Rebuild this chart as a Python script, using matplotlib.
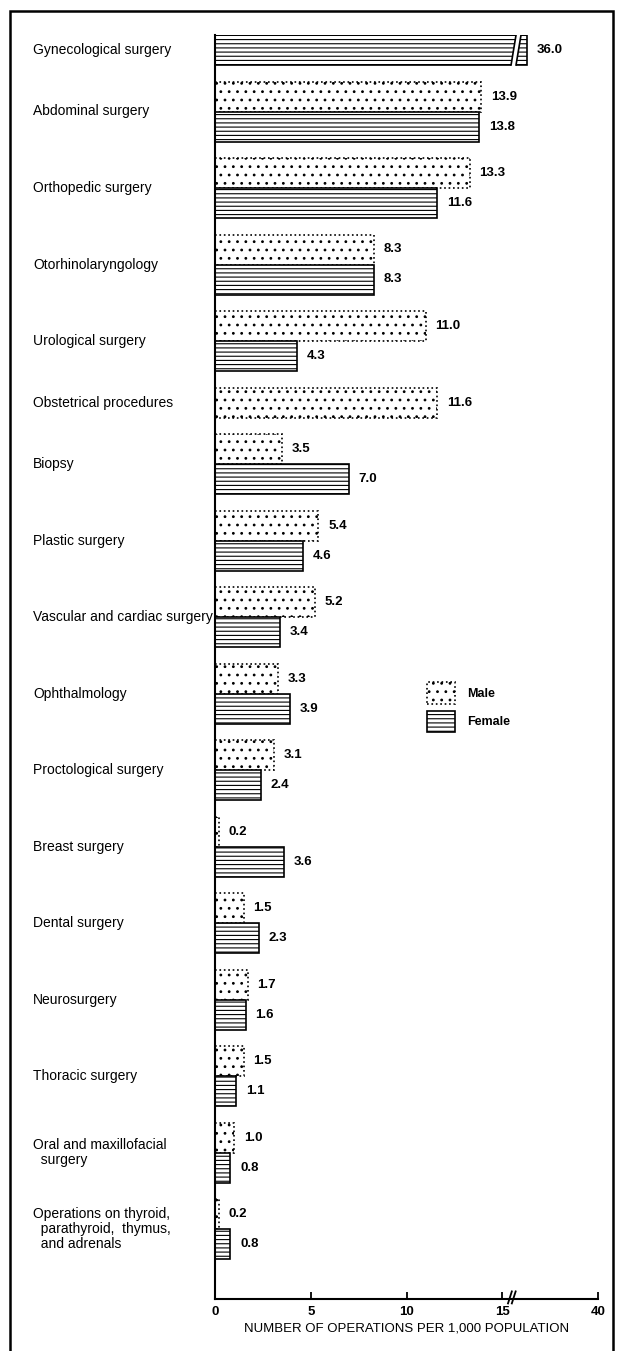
# surgical operations per 1,000 population by sex, horizontal bar chart with broken x axis

import matplotlib.pyplot as plt
import matplotlib.transforms as mtransforms
from matplotlib.patches import Patch, Polygon, Rectangle
from matplotlib.lines import Line2D

plt.rcParams['font.family'] = ['Liberation Sans', 'DejaVu Sans']
plt.rcParams['hatch.linewidth'] = 0.8

# data (None = no bar for that sex)
categories = [
    "Gynecological surgery",
    "Abdominal surgery",
    "Orthopedic surgery",
    "Otorhinolaryngology",
    "Urological surgery",
    "Obstetrical procedures",
    "Biopsy",
    "Plastic surgery",
    "Vascular and cardiac surgery",
    "Ophthalmology",
    "Proctological surgery",
    "Breast surgery",
    "Dental surgery",
    "Neurosurgery",
    "Thoracic surgery",
    "Oral and maxillofacial\n  surgery",
    "Operations on thyroid,\n  parathyroid,  thymus,\n  and adrenals",
]
male = [None, 13.9, 13.3, 8.3, 11.0, 11.6, 3.5, 5.4, 5.2, 3.3, 3.1, 0.2, 1.5, 1.7, 1.5, 1.0, 0.2]
female = [36.0, 13.8, 11.6, 8.3, 4.3, None, 7.0, 4.6, 3.4, 3.9, 2.4, 3.6, 2.3, 1.6, 1.1, 0.8, 0.8]

tick_positions = [0, 5, 10, 15, 20]
tick_labels = ['0', '5', '10', '15', '40']

# layout
BAR_H = 1.0
GROUP_GAP = 0.55
BREAK_AT = 15
BROKEN_LEN = 16.3   # drawn length for bars that run past the break
AXIS_BREAK_X = 15.5

styles = {
    'male': dict(color='white', edgecolor='black', hatch='..', linewidth=1.2, linestyle=':'),
    'female': dict(color='white', edgecolor='black', hatch='----', linewidth=1.2),
}

W, H = 617, 1351
fig = plt.figure(figsize=(W / 100, H / 100), dpi=100)
ax = fig.add_axes([215 / W, 52 / H, 383 / W, 1264 / H])


def draw_bar_break(ax, y_top, y_bot):
    # white slanted gap cut through a bar that runs off the scale
    slant = 0.26
    x_l, x_r = BROKEN_LEN - 0.58, BROKEN_LEN - 0.32
    e = 0.08
    poly = Polygon([(x_l + slant * e, y_top - e), (x_r + slant * e, y_top - e),
                    (x_r - slant * (1 + e), y_bot + e), (x_l - slant * (1 + e), y_bot + e)],
                   facecolor='white', edgecolor='none', zorder=3)
    ax.add_patch(poly)
    for x0 in (x_l, x_r):
        ax.add_line(Line2D([x0, x0 - slant], [y_top, y_bot], color='black', lw=1.2, zorder=4))


# Step 1: draw bars group by group, stacking down the page
y = 0.0
label_y = []
for cat, m, f in zip(categories, male, female):
    start = y
    for val, key in ((m, 'male'), (f, 'female')):
        if val is None:
            continue
        length = val if val <= BREAK_AT else BROKEN_LEN
        ax.barh(y + BAR_H / 2, length, height=BAR_H, zorder=2, **styles[key])
        ax.annotate(f'{val:.1f}', (length, y + BAR_H / 2), xytext=(7, 0),
                    textcoords='offset points', ha='left', va='center',
                    fontsize=9.5, fontweight='bold')
        if val > BREAK_AT:
            draw_bar_break(ax, y, y + BAR_H)
        y += BAR_H
    label_y.append((start + y) / 2)
    y += GROUP_GAP

# Step 2: category labels in the left margin
trans = mtransforms.blended_transform_factory(fig.transFigure, ax.transData)
for cat, ly in zip(categories, label_y):
    fig.text(33 / W, ly, cat, transform=trans, ha='left', va='center',
             fontsize=10, linespacing=1.05)

# Step 3: axes styling
ax.set_xlim(0, 20)
ax.set_ylim(1264 / 30, 0)
ax.set_yticks([])
for side in ('top', 'right'):
    ax.spines[side].set_visible(False)
ax.spines['left'].set_linewidth(1.5)
ax.spines['bottom'].set_linewidth(1.5)
ax.set_xticks(tick_positions)
ax.set_xticklabels(tick_labels, fontweight='bold')
ax.tick_params(axis='x', direction='in', length=5, width=1.3, labelsize=9.5, pad=5)
ax.set_xlabel("NUMBER OF OPERATIONS PER 1,000 POPULATION", fontsize=9.5, labelpad=3)

# axis break marks "//"
btrans = mtransforms.blended_transform_factory(ax.transData, ax.transAxes)
for dx in (-0.1, 0.1):
    ax.add_line(Line2D([AXIS_BREAK_X + dx - 0.1, AXIS_BREAK_X + dx + 0.1],
                       [-0.0035, 0.006], transform=btrans, color='black',
                       lw=1.3, clip_on=False))

# legend
handles = [Patch(label='Male', **{k: v for k, v in styles['male'].items() if k != 'color'}, facecolor='white'),
           Patch(label='Female', **{k: v for k, v in styles['female'].items() if k != 'color'}, facecolor='white')]
fig.legend(handles=handles, loc='upper left', bbox_to_anchor=(427 / W, 1 - 682 / H),
           frameon=False, prop={'size': 9, 'weight': 'bold'}, handlelength=2.2,
           handleheight=2.3, labelspacing=0.55, handletextpad=1.0,
           borderpad=0, borderaxespad=0)

# outer frame round the whole figure
fig.add_artist(Rectangle((10 / W, -0.01), 603 / W, 1 - 11 / H + 0.01,
                         transform=fig.transFigure, fill=False, lw=1.8,
                         edgecolor='black'))

fig.savefig('out.png', dpi=100)
